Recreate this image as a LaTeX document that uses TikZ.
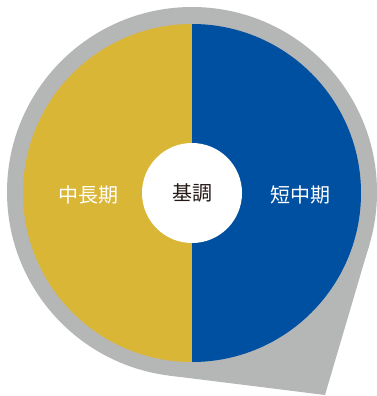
\documentclass[tikz,border=0pt]{standalone}
\usepackage{fontspec}
\setmainfont{Noto Sans CJK JP}
\usepackage{tikz}
\usetikzlibrary{calc, positioning}
\definecolor{bubblegray}{HTML}{B5B6B6}
\definecolor{longgold}{HTML}{DAB637}
\definecolor{shortblue}{HTML}{0050A2}
\definecolor{basetext}{HTML}{231815}

\begin{document}
\begin{tikzpicture}[
    x=1pt, y=-1pt,
    disc/.style={circle, inner sep=0pt, outer sep=0pt},
    term/.style={font=\fontsize{20}{24}\selectfont, text=white},
    core/.style={disc, fill=white, minimum size=100pt, font=\fontsize{20}{24}\selectfont, text=basetext}
]
\useasboundingbox (0,0) rectangle (377,396);

% Speech bubble outline
\node[disc, fill=bubblegray, minimum size=370pt] (bubble) at (192,192) {};
\coordinate (tip) at (325,395);
\fill[bubblegray] (tip) -- (tangent cs:node=bubble, point={(tip)}, solution=1)
    -- (bubble.center) -- (tangent cs:node=bubble, point={(tip)}, solution=2) -- cycle;

% Two halves
\node[disc, minimum size=338pt] (wheel) at (192,193) {};
\fill[longgold] (wheel.north) arc[start angle=90, end angle=270, radius=169pt] -- cycle;
\fill[shortblue] (wheel.south) arc[start angle=-90, end angle=90, radius=169pt] -- cycle;

% Centre and labels
\node[core] (base) at (wheel.center) {基調};
\node[term] (longterm) at (88,195) {中長期};
\node[term] (shortterm) at (300,195) {短中期};

\end{tikzpicture}
\end{document}
